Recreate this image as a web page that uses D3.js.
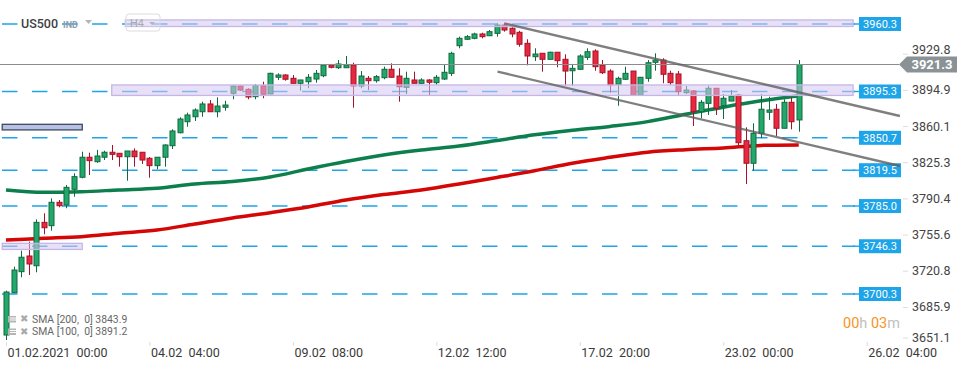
<!DOCTYPE html>
<html>
<head>
<meta charset="utf-8">
<script src="https://cdn.jsdelivr.net/npm/d3@7"></script>
<style>
body{margin:0;background:#fff;font-family:Roboto,"Noto Sans",sans-serif;}
svg{display:block}
</style>
</head>
<body>
<svg id="chart" width="970" height="369"></svg>
<script>
// H4 candles, index 0 = 01.02.2021 00:00
const opens = [
3660.8,3701.5,3721.8,3736.9,3727.5,3769.3,3766.1,3788.6,3786.0,3801.1,
3812.7,3832.0,3827.7,3832.0,3836.8,3835.8,3832.5,3838.0,3836.8,3831.0,
3823.9,3832.0,3843.1,3855.6,3866.2,3871.0,3875.8,3883.3,3875.8,3880.1,
3893.6,3900.6,3897.4,3890.3,3900.9,3892.9,3909.0,3911.2,3908.0,3903.2,
3904.7,3907.3,3910.5,3920.8,3918.2,3918.2,3920.8,3900.6,3908.0,3905.7,
3908.6,3916.7,3910.2,3899.3,3906.4,3903.2,3906.4,3903.8,3907.3,3912.8,
3939.4,3945.6,3946.5,3950.7,3949.0,3951.3,3959.3,3956.2,3952.3,3941.7,
3928.8,3932.1,3926.3,3933.1,3926.3,3915.3,3916.7,3928.2,3934.3,3920.8,
3915.0,3902.2,3907.1,3915.0,3891.9,3908.0,3923.4,3925.6,3912.8,3912.2,
3894.2,3895.8,3875.8,3883.9,3898.4,3881.6,3886.1,3891.9,3847.9,3826.2,
3855.0,3875.3,3878.2,3859.9,3884.9,3867.9]
const closes = [
3702.2,3723.4,3735.7,3729.2,3769.3,3764.1,3788.6,3785.3,3803.0,3813.3,
3832.0,3828.7,3833.2,3836.8,3834.8,3832.5,3838.0,3832.5,3829.3,3823.9,
3832.0,3843.8,3857.3,3868.8,3872.7,3877.5,3883.3,3875.8,3881.3,3882.3,
3900.6,3896.7,3890.0,3900.9,3892.6,3912.8,3911.2,3907.1,3903.2,3906.4,
3909.0,3912.8,3920.8,3918.6,3921.8,3920.8,3900.6,3910.2,3905.7,3909.6,
3916.7,3909.0,3899.9,3908.0,3903.2,3906.4,3904.2,3909.0,3913.8,3932.1,
3946.5,3948.1,3950.7,3948.1,3952.9,3959.3,3954.5,3950.7,3940.8,3929.5,
3931.4,3926.3,3933.1,3925.0,3915.0,3917.6,3929.5,3933.6,3919.2,3913.4,
3901.6,3908.0,3912.8,3891.9,3909.0,3923.0,3925.6,3911.9,3903.8,3895.1,
3896.7,3875.8,3884.9,3898.4,3879.1,3888.8,3890.9,3846.0,3826.2,3855.0,
3878.2,3877.5,3859.9,3884.9,3866.2,3921.3]
const highs = [
3703.5,3726.6,3742.0,3750.7,3772.2,3778.0,3792.4,3790.8,3805.3,3816.5,
3837.3,3836.4,3839.1,3838.3,3843.8,3835.8,3838.0,3840.6,3837.0,3832.2,
3832.2,3844.5,3858.9,3870.5,3874.9,3879.1,3885.5,3887.1,3889.7,3886.4,
3901.6,3900.9,3898.4,3902.5,3904.7,3913.4,3912.8,3911.9,3911.2,3906.4,
3912.1,3916.0,3920.8,3921.8,3925.6,3929.5,3923.0,3915.0,3910.2,3911.2,
3919.2,3922.4,3917.6,3914.4,3914.4,3908.0,3907.1,3911.2,3920.8,3933.6,
3948.1,3949.7,3951.9,3951.9,3954.5,3961.0,3961.0,3957.1,3953.8,3945.6,
3936.9,3932.1,3933.6,3933.1,3931.1,3921.8,3931.1,3936.9,3935.9,3925.6,
3916.7,3909.6,3919.2,3915.0,3909.0,3925.6,3932.1,3927.3,3915.3,3915.0,
3900.6,3896.7,3887.1,3900.6,3898.4,3892.9,3896.7,3892.9,3860.8,3864.7,
3892.9,3890.3,3883.3,3887.8,3889.7,3925.6]
const lows = [
3656.0,3701.3,3716.4,3718.6,3721.2,3757.8,3761.3,3783.8,3782.9,3794.0,
3811.7,3814.9,3826.7,3829.3,3829.3,3822.9,3809.4,3822.9,3825.5,3812.3,
3820.4,3822.9,3839.9,3855.0,3861.4,3866.9,3871.0,3875.8,3870.5,3876.8,
3887.8,3895.8,3887.8,3887.8,3888.8,3892.9,3906.4,3905.7,3903.2,3896.1,
3898.4,3903.8,3909.0,3917.6,3917.0,3918.2,3879.7,3898.4,3896.7,3903.8,
3907.1,3909.0,3885.5,3892.9,3903.2,3902.5,3891.9,3901.6,3906.4,3910.2,
3936.9,3944.9,3945.6,3946.5,3949.0,3948.1,3952.9,3947.5,3938.4,3920.5,
3924.7,3914.4,3926.3,3918.6,3900.6,3900.6,3916.0,3925.6,3915.3,3912.1,
3894.2,3881.6,3906.4,3891.9,3891.9,3904.7,3915.3,3903.2,3901.6,3891.9,
3892.9,3862.1,3869.5,3872.7,3872.7,3868.8,3886.1,3843.8,3806.2,3819.1,
3850.3,3867.9,3852.5,3859.9,3858.9,3856.6]

// moving averages, read every 5 candles
const smaIdx = [0,5,10,15,20,25,30,35,40,45,50,55,60,65,70,75,80,85,90,95,100,105]
const sma100 = [3800.5,3798.2,3798.8,3800.5,3802.1,3806.2,3808.6,3813.0,3820.7,3827.9,3834.2,3839.0,3842.8,3848.1,3853.7,3858.0,3861.7,3866.3,3873.4,3880.2,3886.3,3891.2]
const sma200 = [3752.3,3753.9,3755.5,3758.8,3761.9,3767.7,3773.5,3778.6,3784.1,3790.8,3796.1,3800.5,3806.2,3812.5,3819.0,3826.3,3831.9,3836.9,3839.3,3840.9,3843.4,3843.9]

// horizontal levels
const levels = [3960.3, 3895.3, 3850.7, 3819.5, 3785.0, 3746.3, 3700.3]

// zones: candle index from/to, price top/bottom
const zoneFrom = [15.8, 14.0, -0.5, -0.5]
const zoneTo = [112.2, 112.2, 10.1, 10.1]
const zoneTop = [3964.2, 3901.6, 3863.7, 3749.1]
const zoneBottom = [3957.9, 3891.5, 3858.3, 3743.2]

// channel lines
const trendFrom = [66, 65.1]
const trendTo = [118.4, 118.4]
const trendFromPrice = [3960.9, 3914.4]
const trendToPrice = [3871.7, 3823.6]

const lastPrice = 3921.3
const yTicks = [3929.8, 3894.9, 3860.1, 3825.3, 3790.4, 3755.6, 3720.8, 3685.9, 3651.1]
const xTickIdx = [0, 19, 38, 57, 76, 95, 114]
const xTickLabels = ["01.02.2021  00:00", "04.02  04:00", "09.02  08:00", "12.02  12:00", "17.02  20:00", "23.02  00:00", "26.02  04:00"]
const legendLabels = ["SMA [200,  0] 3843.9", "SMA [100,  0] 3891.2"]

const svg = d3.select("#chart")
const x = d3.scaleLinear().domain([0, 114]).range([6, 866.7])
const y = d3.scaleLinear().domain([3700.3, 3960.3]).range([294, 24])

const GREEN = "#22a86b", GREEN_D = "#11693f"
const RED = "#e8283d", RED_D = "#a3132a"
const BLUE = "#1ea4e9"

// dashed levels
svg.selectAll(".lvl").data(levels).enter().append("line")
  .attr("x1", 2).attr("x2", 855)
  .attr("y1", d => y(d)).attr("y2", d => y(d))
  .attr("stroke", BLUE).attr("stroke-width", 1.4)
  .attr("stroke-dasharray", "15.5,14.5")
svg.selectAll(".lvlc").data(levels).enter().append("line")
  .attr("x1", 853).attr("x2", 860)
  .attr("y1", d => y(d)).attr("y2", d => y(d))
  .attr("stroke", BLUE).attr("stroke-width", 1.4)

// moving averages
const smaLine = (vals) => d3.line()
  .x((d, i) => x(smaIdx[i]))
  .y(d => y(d))
  .curve(d3.curveMonotoneX)(vals)

svg.append("path").attr("d", smaLine(sma100))
  .attr("fill", "none").attr("stroke", "#0c7f4c").attr("stroke-width", 3.5)
svg.append("path").attr("d", smaLine(sma200))
  .attr("fill", "none").attr("stroke", "#d40606").attr("stroke-width", 3.5)

// candles
const idx = d3.range(opens.length)
const cg = svg.append("g")
cg.selectAll(".wick").data(idx).enter().append("line")
  .attr("x1", i => Math.round(x(i)) + 0.5).attr("x2", i => Math.round(x(i)) + 0.5)
  .attr("y1", i => y(highs[i])).attr("y2", i => y(lows[i]))
  .attr("stroke", i => closes[i] >= opens[i] ? GREEN_D : RED_D)
  .attr("stroke-width", 1)
cg.selectAll(".body").data(idx).enter().append("rect")
  .attr("x", i => Math.round(x(i)) - 2)
  .attr("width", 5)
  .attr("y", i => y(Math.max(opens[i], closes[i])))
  .attr("height", i => Math.max(1, Math.abs(y(opens[i]) - y(closes[i]))))
  .attr("fill", i => closes[i] >= opens[i] ? GREEN : RED)
  .attr("stroke", i => closes[i] >= opens[i] ? GREEN_D : RED_D)
  .attr("stroke-width", 1)

// zones
const zoneFill = ["rgba(212,198,240,0.55)", "rgba(212,198,240,0.55)", "#b9c0e6", "rgba(212,198,240,0.55)"]
const zoneStroke = ["#c6b6e6", "#c6b6e6", "#3d4b5c", "#c6b6e6"]
svg.selectAll(".zone").data(zoneFrom).enter().append("rect")
  .attr("x", (d, i) => x(zoneFrom[i]))
  .attr("width", (d, i) => x(zoneTo[i]) - x(zoneFrom[i]))
  .attr("y", (d, i) => y(zoneTop[i]))
  .attr("height", (d, i) => y(zoneBottom[i]) - y(zoneTop[i]))
  .attr("fill", (d, i) => zoneFill[i])
  .attr("stroke", (d, i) => zoneStroke[i])
  .attr("stroke-width", 1.3)

// last price line
svg.append("line")
  .attr("x1", 0).attr("x2", 899)
  .attr("y1", y(lastPrice)).attr("y2", y(lastPrice))
  .attr("stroke", "#8c8c8c").attr("stroke-width", 1)

// level labels
svg.selectAll(".lvlbox").data(levels).enter().append("rect")
  .attr("x", 859).attr("width", 42)
  .attr("y", d => y(d) - 7).attr("height", 14)
  .attr("fill", BLUE)
svg.selectAll(".lvltxt").data(levels).enter().append("text")
  .attr("x", 880).attr("y", d => y(d)).attr("dy", "0.35em")
  .attr("text-anchor", "middle")
  .attr("font-size", 11).attr("fill", "#fff")
  .text(d => d.toFixed(1))

// channel
svg.selectAll(".trend").data(trendFrom).enter().append("line")
  .attr("x1", (d, i) => x(trendFrom[i])).attr("y1", (d, i) => y(trendFromPrice[i]))
  .attr("x2", (d, i) => x(trendTo[i])).attr("y2", (d, i) => y(trendToPrice[i]))
  .attr("stroke", "rgba(95,95,95,0.8)").attr("stroke-width", 2.4)

// price axis
const yAxis = d3.axisRight(y).tickValues(yTicks).tickFormat(d3.format(".1f"))
  .tickSize(5).tickPadding(4)
const ya = svg.append("g").attr("transform", "translate(903,-2)").call(yAxis)
ya.select(".domain").remove()
ya.selectAll(".tick line").attr("stroke", "#ddd")
ya.selectAll(".tick text").attr("fill", "#444").attr("font-size", 12.5)
  .attr("font-family", "Roboto")
ya.selectAll(".tick").filter(d => d === 3651.1).attr("transform", "translate(0,340)")
// top label sits mostly above the price tag
ya.selectAll(".tick").filter(d => d === 3929.8).select("text").attr("y", -4)

// last price tag
const ly = y(lastPrice)
svg.append("path")
  .attr("d", `M899,${ly} L907,${ly - 8} L957,${ly - 8} L957,${ly + 8} L907,${ly + 8} Z`)
  .attr("fill", "#8a9296")
svg.append("text").attr("x", 932).attr("y", ly).attr("dy", "0.36em")
  .attr("text-anchor", "middle").attr("font-size", 13).attr("font-weight", "bold")
  .attr("fill", "#fff").text(lastPrice.toFixed(1))

// time axis
const xAxis = d3.axisBottom(x).tickValues(xTickIdx)
  .tickFormat((d, i) => xTickLabels[i]).tickSize(4).tickPadding(2)
const xa = svg.append("g").attr("transform", "translate(0,342)").call(xAxis)
xa.select(".domain").remove()
xa.selectAll(".tick line").attr("stroke", "#ddd")
xa.selectAll(".tick text").attr("text-anchor", "start").attr("x", 1)
  .attr("fill", "#3a3a3a").attr("font-size", 12.5).attr("font-family", "Roboto")
  .style("white-space", "pre")

// header
svg.append("rect").attr("x", 19).attr("y", 15).attr("width", 38).attr("height", 18).attr("fill", "#fff")
svg.append("text").attr("x", 21).attr("y", 28).attr("font-size", 12.5).attr("font-weight", 500)
  .attr("fill", "#3c3f44").text("US500")
svg.append("text").attr("x", 63).attr("y", 27.5).attr("font-size", 9).attr("font-weight", "bold")
  .attr("fill", "#8d9bab").text("IND")
svg.append("path").attr("d", "M85,20 L92,20 L88.5,24 Z").attr("fill", "#b5b5b5")
svg.append("rect").attr("x", 126).attr("y", 14).attr("width", 34).attr("height", 17).attr("rx", 3)
  .attr("fill", "rgba(255,255,255,0.15)").attr("stroke", "#dcdcdc")
svg.append("text").attr("x", 130).attr("y", 27).attr("font-size", 11).attr("fill", "#aaa").text("H4")
svg.append("path").attr("d", "M149,22 L155,22 L152,25 Z").attr("fill", "#b5b5b5")

// legend
legendLabels.forEach(function (lab, i) {
  const ty = 322 + i * 12.5
  const g = svg.append("g")
  g.append("rect").attr("x", 8).attr("y", ty - 6).attr("width", 8).attr("height", 6.5).attr("fill", "#b5b5b5")
  g.append("rect").attr("x", 10).attr("y", ty - 4.5).attr("width", 6).attr("height", 1).attr("fill", "#fff")
  g.append("rect").attr("x", 10).attr("y", ty - 2.5).attr("width", 6).attr("height", 1).attr("fill", "#fff")
  g.append("text").attr("x", 20).attr("y", ty).attr("font-size", 10).attr("fill", "#aaa")
    .attr("font-family", "DejaVu Sans").text("\u2716")
  g.append("text").attr("x", 32).attr("y", ty + 0.5).attr("font-size", 10.4).attr("fill", "#666")
    .style("white-space", "pre").text(lab)
})

// candle timer
const timer = svg.append("text").attr("x", 843).attr("y", 328).attr("font-size", 14.5)
timer.append("tspan").attr("fill", "#f7941d").text("00")
timer.append("tspan").attr("fill", "#c0c0c0").text("h ")
timer.append("tspan").attr("fill", "#f7941d").text("03")
timer.append("tspan").attr("fill", "#c0c0c0").text("m")
</script>
</body>
</html>
